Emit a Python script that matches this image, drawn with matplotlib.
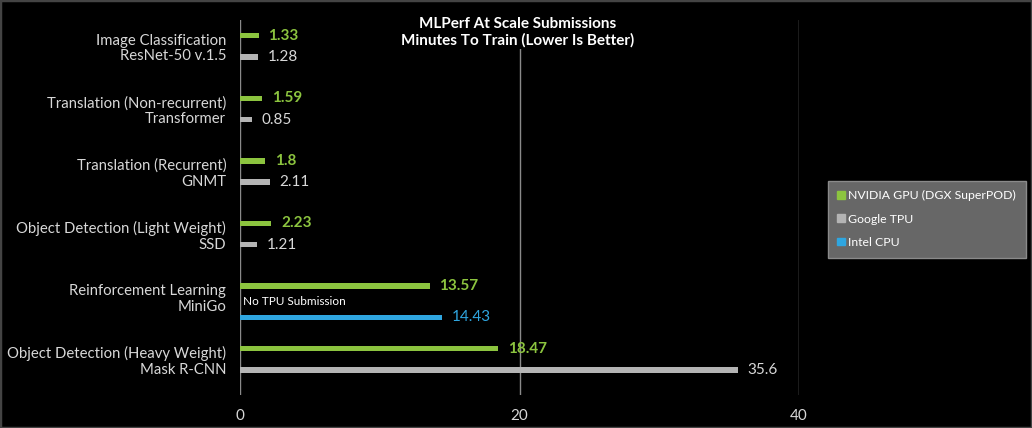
import matplotlib.pyplot as plt
from matplotlib.patches import Rectangle, Patch

plt.rcParams['font.family'] = ['Lato', 'DejaVu Sans']

categories = ['Image Classification\nResNet-50 v.1.5',
              'Translation (Non-recurrent)\nTransformer',
              'Translation (Recurrent)\nGNMT',
              'Object Detection (Light Weight)\nSSD',
              'Reinforcement Learning\nMiniGo',
              'Object Detection (Heavy Weight)\nMask R-CNN']
nvidia = [1.33, 1.59, 1.8, 2.23, 13.57, 18.47]
google = [1.28, 0.85, 2.11, 1.21, None, 35.6]
intel = [None, None, None, None, 14.43, None]
series_names = ['NVIDIA GPU (DGX SuperPOD)', 'Google TPU', 'Intel CPU']
x_ticks = [0, 20, 40]

green = '#8cc43f'
grey = '#b4b4b4'
blue = '#2fa6e0'
txt = '#d8d8d8'

fig = plt.figure(figsize=(10.32, 4.28), dpi=100, facecolor='black')
ax = fig.add_axes([0.2326, 0.0771, 0.5417, 0.8762])
ax.set_facecolor('black')

bh = 0.085
for i in range(len(categories)):
    if google[i] is None:
        g_off, o_off = -0.17, 0.33
    else:
        g_off, o_off = -0.17, 0.17
    ax.barh(i + g_off, nvidia[i], height=bh, color=green, zorder=3)
    ax.text(nvidia[i] + 0.7, i + g_off, str(nvidia[i]), color=green,
            fontsize=11, fontweight='bold', va='center', ha='left')
    if google[i] is not None:
        ax.barh(i + o_off, google[i], height=bh, color=grey, zorder=3)
        ax.text(google[i] + 0.7, i + o_off, str(google[i]), color=txt,
                fontsize=11, va='center', ha='left')
    if intel[i] is not None:
        ax.barh(i + o_off, intel[i], height=bh, color=blue, zorder=3)
        ax.text(intel[i] + 0.7, i + o_off, str(intel[i]), color=blue,
                fontsize=11, va='center', ha='left')
        ax.text(0.2, i + 0.08, 'No TPU Submission', color='white',
                fontsize=8.5, va='center', ha='left')

ax.set_xlim(0, 40)
ax.set_ylim(5.57, -0.42)
ax.set_yticks(range(len(categories)))
ax.set_yticklabels(categories, color=txt, fontsize=10.7, linespacing=1.15)
ax.set_xticks(x_ticks)
ax.set_xticklabels([str(t) for t in x_ticks], color=txt, fontsize=11)
ax.tick_params(length=0, pad=10)
for s in ax.spines.values():
    s.set_visible(False)
for t in x_ticks:
    ax.axvline(t, color='#8a8a8a', lw=1, zorder=1)

fig.text(0.502, 0.925, 'MLPerf At Scale Submissions\nMinutes To Train (Lower Is Better)',
         ha='center', va='center', color='white', fontsize=11, fontweight='bold',
         linespacing=1.2,
         bbox=dict(facecolor='black', edgecolor='none', pad=1))

handles = [Patch(color=green), Patch(color=grey), Patch(color=blue)]
leg = fig.legend(handles, series_names, loc='center left',
                 bbox_to_anchor=(0.796, 0.488), frameon=True, fontsize=8.8,
                 handlelength=0.6, handleheight=0.6, handletextpad=0.3,
                 labelspacing=1.0, borderpad=0.8, labelcolor='white')
leg.get_frame().set_facecolor('#676767')
leg.get_frame().set_edgecolor('#8a8a8a')
leg.get_frame().set_alpha(1)
leg.get_frame().set_boxstyle('square', pad=0)

fig.patches.append(Rectangle((0, 0), 1, 1, transform=fig.transFigure,
                             fill=False, edgecolor='#444444', lw=2.5))

fig.savefig('out.png', dpi=100, facecolor='black')
